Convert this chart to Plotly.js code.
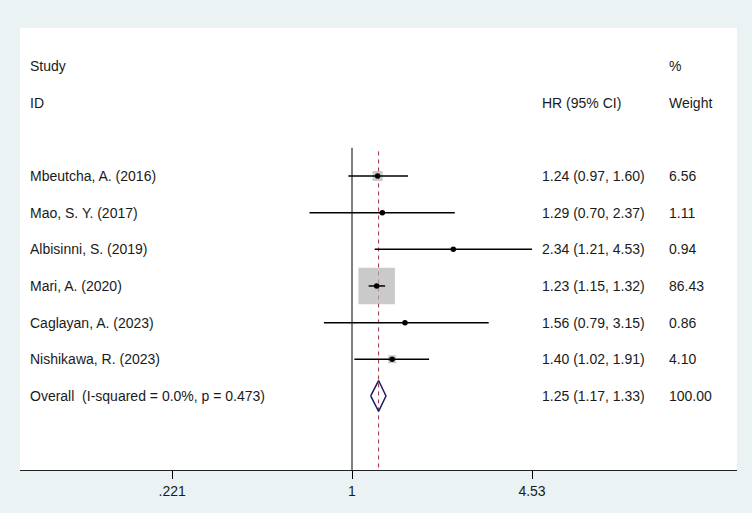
<!DOCTYPE html>
<html>
<head>
<meta charset="utf-8">
<script src="https://cdn.plot.ly/plotly-3.0.1.min.js"></script>
<style>html,body{margin:0;padding:0;background:#ffffff;}#chart{width:755px;height:515px;}</style>
</head>
<body>
<div id="chart"></div>
<script>
// ---- data ----
var studies = ['Mbeutcha, A. (2016)', 'Mao, S. Y. (2017)', 'Albisinni, S. (2019)', 'Mari, A. (2020)', 'Caglayan, A. (2023)', 'Nishikawa, R. (2023)'];
var hr = [1.24, 1.29, 2.34, 1.23, 1.56, 1.40];
var ciLow = [0.97, 0.70, 1.21, 1.15, 0.79, 1.02];
var ciHigh = [1.60, 2.37, 4.53, 1.32, 3.15, 1.91];
var weights = [6.56, 1.11, 0.94, 86.43, 0.86, 4.10];
var overallLabel = 'Overall  (I-squared = 0.0%, p = 0.473)';
var overallHR = 1.25;
var overallLow = 1.17;
var overallHigh = 1.33;
var overallWeight = 100.00;
var tickValues = [0.221, 1, 4.53];
var tickLabels = ['.221', '1', '4.53'];

// ---- layout helpers ----
var firstRow = 3;
var rows = studies.map(function(_, i){ return firstRow + i; });
var overallRow = firstRow + studies.length;
var yTop = -1.037, yBottom = 11.02;
var lineTop = 2.23;
var fontFam = 'Arial, "Liberation Sans", sans-serif';
var txtColor = '#1a1a1a';
function px(p){ return (p - 20) / 717; }

var maxW = Math.max.apply(null, weights);
var sqSizes = weights.map(function(w){ return 36.5 * Math.sqrt(w / maxW); });

var ciX = [], ciY = [];
for (var i = 0; i < hr.length; i++) {
  ciX.push(ciLow[i], ciHigh[i], null);
  ciY.push(rows[i], rows[i], null);
}

var dh = 0.42;
var traces = [
  { type:'scatter', mode:'lines', x:[1,1], y:[lineTop, yBottom], line:{color:'#000000', width:1}, hoverinfo:'skip' },
  { type:'scatter', mode:'lines', x:[overallHR, overallHR], y:[lineTop + 0.1, yBottom], line:{color:'#9e2a3a', width:1, dash:'4px,4px'}, hoverinfo:'skip' },
  { type:'scatter', mode:'markers', x:hr, y:rows, marker:{symbol:'square', size:sqSizes, color:'#b4b4b4', line:{width:0}}, hoverinfo:'skip' },
  { type:'scatter', mode:'lines', x:ciX, y:ciY, line:{color:'#000000', width:1.5}, hoverinfo:'skip', connectgaps:false },
  { type:'scatter', mode:'markers', x:hr, y:rows, marker:{symbol:'circle', size:5.5, color:'#000000'}, hoverinfo:'skip' },
  { type:'scatter', mode:'lines', fill:'toself', fillcolor:'rgba(255,255,255,0)',
    x:[overallLow, overallHR, overallHigh, overallHR, overallLow],
    y:[overallRow, overallRow - dh, overallRow, overallRow + dh, overallRow],
    line:{color:'#1c1c6e', width:1.5}, hoverinfo:'skip' }
];

var annotations = [];
function addText(text, xp, row){
  annotations.push({ text:text, xref:'paper', yref:'y', x:px(xp), y:row, xanchor:'left', yanchor:'middle',
    showarrow:false, font:{family:fontFam, size:14, color:txtColor} });
}
addText('Study', 28, 0);
addText('ID', 28, 1);
addText('HR (95% CI)', 540, 1);
addText('%', 667, 0);
addText('Weight', 667, 1);
for (var j = 0; j < studies.length; j++) {
  addText(studies[j], 28, rows[j]);
  addText(hr[j].toFixed(2) + ' (' + ciLow[j].toFixed(2) + ', ' + ciHigh[j].toFixed(2) + ')', 540, rows[j]);
  addText(weights[j].toFixed(2), 667, rows[j]);
}
addText(overallLabel, 28, overallRow);
addText(overallHR.toFixed(2) + ' (' + overallLow.toFixed(2) + ', ' + overallHigh.toFixed(2) + ')', 540, overallRow);
addText(overallWeight.toFixed(2), 667, overallRow);

var layout = {
  width:755, height:515,
  margin:{l:20, r:18, t:28, b:45},
  paper_bgcolor:'#eaf2f3',
  plot_bgcolor:'#ffffff',
  showlegend:false,
  font:{family:fontFam, size:14, color:txtColor},
  xaxis:{
    type:'log', range:[-1.2101, 1.4033],
    tickmode:'array', tickvals:tickValues, ticktext:tickLabels,
    ticks:'outside', ticklen:8, tickwidth:1, tickcolor:'#000000',
    showline:true, linecolor:'#222222', linewidth:1.2,
    showgrid:false, zeroline:false, fixedrange:true,
    tickfont:{family:fontFam, size:14, color:txtColor}
  },
  yaxis:{
    range:[yBottom, yTop], visible:false, showgrid:false, zeroline:false, fixedrange:true
  },
  annotations:annotations,
  shapes:[
    {type:'rect', xref:'paper', yref:'paper', x0:px(752), x1:px(760), y0:-0.2, y1:1.2, fillcolor:'#ffffff', line:{width:0}, layer:'above'},
    {type:'rect', xref:'paper', yref:'paper', x0:-0.1, x1:1.1, y0:(470-513)/442, y1:(470-520)/442, fillcolor:'#ffffff', line:{width:0}, layer:'above'}
  ]
};

Plotly.newPlot('chart', traces, layout, {displayModeBar:false, staticPlot:true});
</script>
</body>
</html>
